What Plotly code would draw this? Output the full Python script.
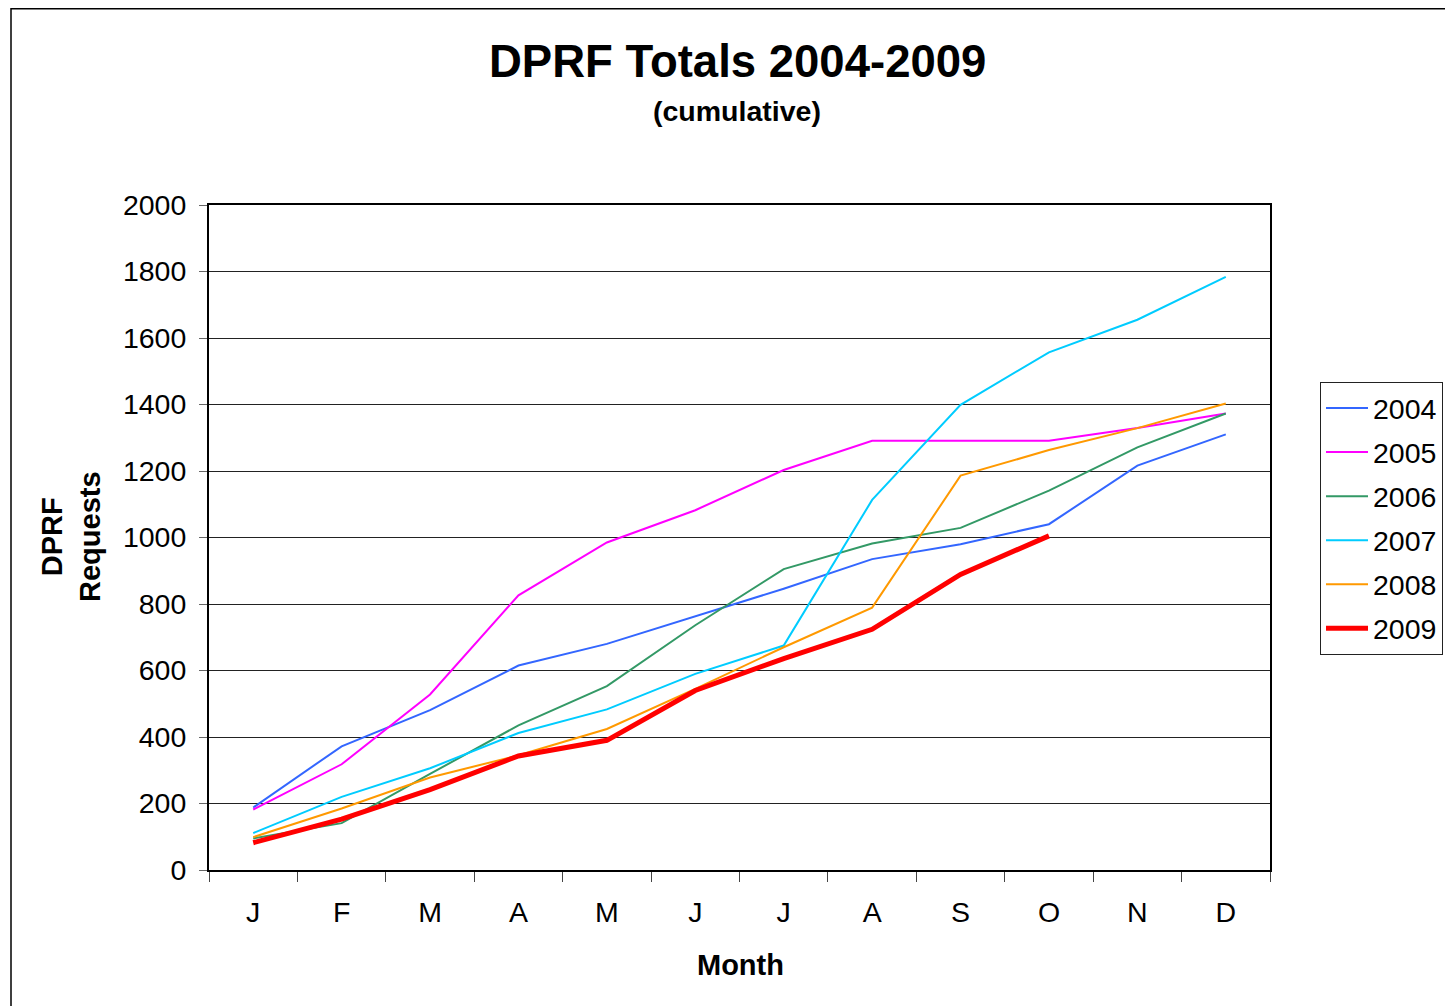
import plotly.graph_objects as go

months = ["J", "F", "M", "A", "M", "J", "J", "A", "S", "O", "N", "D"]
month_keys = ["Jan", "Feb", "Mar", "Apr", "May", "Jun", "Jul", "Aug", "Sep", "Oct", "Nov", "Dec"]

y2004 = [188, 372, 481, 615, 680, 763, 846, 935, 980, 1040, 1216, 1310]
y2005 = [182, 318, 528, 826, 985, 1082, 1203, 1291, 1291, 1291, 1329, 1373]
y2006 = [95, 141, 289, 435, 553, 736, 905, 982, 1029, 1141, 1271, 1373]
y2007 = [111, 220, 306, 412, 483, 590, 675, 1113, 1399, 1557, 1655, 1784]
y2008 = [99, 185, 278, 345, 424, 545, 670, 789, 1186, 1263, 1329, 1403]
y2009 = [82, 153, 242, 343, 390, 540, 636, 724, 889, 1005]

series = [
    ("2004", y2004, "#3366FF", 2),
    ("2005", y2005, "#FF00FF", 2),
    ("2006", y2006, "#339966", 2),
    ("2007", y2007, "#00CCFF", 2),
    ("2008", y2008, "#FF9900", 2),
    ("2009", y2009, "#FF0000", 5),
]

FONT = "Liberation Sans, Arial, sans-serif"

fig = go.Figure()
for name, vals, color, w in series:
    fig.add_trace(go.Scatter(
        x=month_keys[:len(vals)], y=vals, mode="lines", name=name,
        legendgroup=name,
        line=dict(color=color, width=w),
    ))

# page offset (body margin) compensation
O = 8
W, H = 1453 - O, 1006 - O
L, R, T, B = 209 - O, 1270 - O, 205 - O, 870 - O
pw, ph = R - L, B - T

def px(x):
    return (x - O - L) / pw

def py(y):
    return (B - (y - O)) / ph

FS = 28.5

fig.update_layout(
    width=W, height=H,
    margin=dict(l=L, r=W - R, t=T, b=H - B, pad=0, autoexpand=False),
    paper_bgcolor="white", plot_bgcolor="white",
    font=dict(family=FONT, color="black", size=FS),
    showlegend=True,
    legend=dict(
        x=px(1320), y=py(382), xanchor="left", yanchor="top",
        bordercolor="#222", borderwidth=1, bgcolor="white",
        font=dict(size=FS, family=FONT),
        tracegroupgap=4, itemwidth=42,
    ),
    xaxis=dict(
        type="category", categoryorder="array", categoryarray=month_keys,
        tickmode="array", tickvals=month_keys, ticktext=months,
        tickson="boundaries", ticks="outside", ticklen=10, tickcolor="#444", tickwidth=1,
        showline=True, linecolor="black", linewidth=2, mirror=True,
        showgrid=False, zeroline=False,
        tickfont=dict(size=FS, family=FONT),
        ticklabelstandoff=16,
        range=[-0.5, 11.5],
    ),
    yaxis=dict(
        range=[0, 2000], dtick=200, tick0=0,
        ticks="outside", ticklen=8, tickcolor="#666", tickwidth=1,
        showline=True, linecolor="black", linewidth=2, mirror=True,
        showgrid=True, gridcolor="#222", gridwidth=1, zeroline=False,
        tickfont=dict(size=FS, family=FONT),
        ticklabelstandoff=7,
    ),
    annotations=[
        dict(text="<b>DPRF Totals 2004-2009</b>", xref="paper", yref="paper",
             x=px(737), y=py(62), xanchor="center", yanchor="middle",
             showarrow=False, font=dict(size=45.5, family=FONT)),
        dict(text="<b>(cumulative)</b>", xref="paper", yref="paper",
             x=px(737), y=py(111), xanchor="center", yanchor="middle",
             showarrow=False, font=dict(size=28.5, family=FONT)),
        dict(text="<b>Month</b>", xref="paper", yref="paper",
             x=px(740), y=py(965), xanchor="center", yanchor="middle",
             showarrow=False, font=dict(size=29, family=FONT)),
        dict(text="<b>DPRF<br>Requests</b>", xref="paper", yref="paper",
             x=px(71), y=py(537), xanchor="center", yanchor="middle",
             textangle=-90, showarrow=False, font=dict(size=29, family=FONT)),
    ],
    shapes=[
        dict(type="rect", xref="paper", yref="paper",
             x0=px(11), x1=px(1480), y0=py(8.8), y1=py(1040),
             line=dict(color="black", width=1.5), layer="below"),
    ],
)

fig.write_html("out.html")
